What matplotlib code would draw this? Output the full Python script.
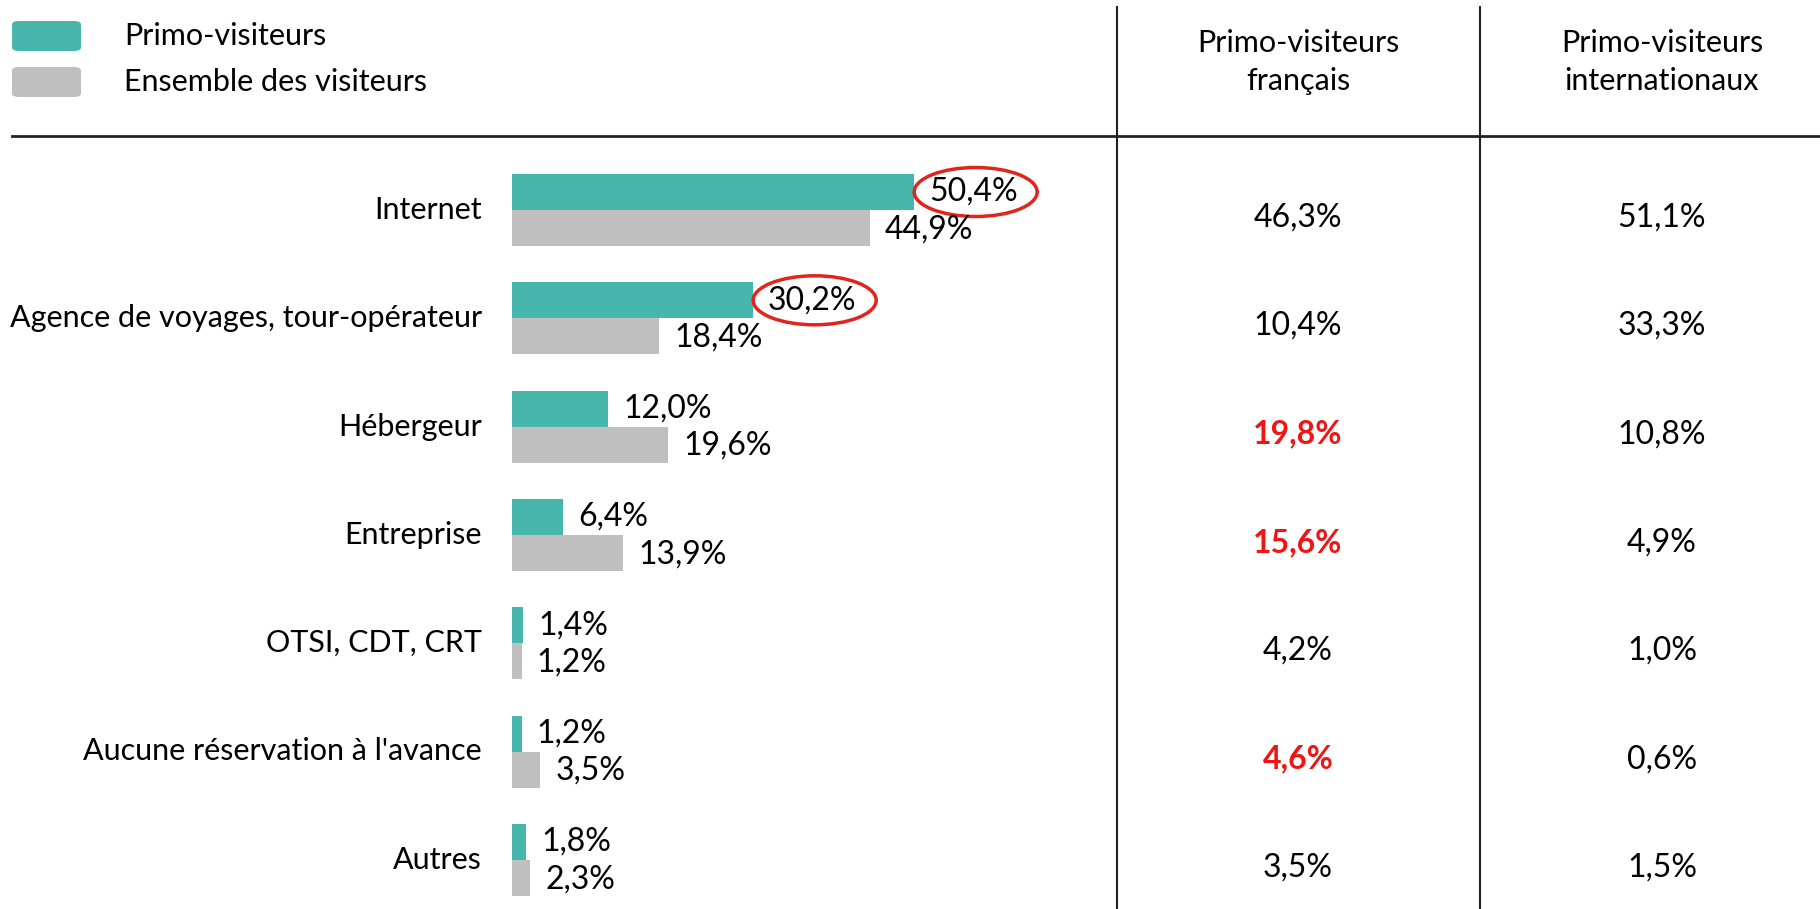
"""
Primo-visiteurs : mode de réservation (barres + tableau)
"""

import matplotlib
matplotlib.use('Agg')
import matplotlib.pyplot as plt
from matplotlib.patches import Ellipse, FancyBboxPatch
from matplotlib.lines import Line2D
from matplotlib.transforms import blended_transform_factory

plt.rcParams['font.family'] = ['Lato', 'DejaVu Sans']

# data
categories = ['Internet', 'Agence de voyages, tour-opérateur', 'Hébergeur',
              'Entreprise', 'OTSI, CDT, CRT', "Aucune réservation à l'avance", 'Autres']
primo = [50.4, 30.2, 12.0, 6.4, 1.4, 1.2, 1.8]
ensemble = [44.9, 18.4, 19.6, 13.9, 1.2, 3.5, 2.3]
primo_fr = [46.3, 10.4, 19.8, 15.6, 4.2, 4.6, 3.5]
primo_int = [51.1, 33.3, 10.8, 4.9, 1.0, 0.6, 1.5]
highlight_fr = [False, False, True, True, False, True, False]
circled = [0, 1]  # rows where the primo value is circled

TEAL = '#47B7AD'
GREY = '#BFBFBF'
RED_RING = '#E0261C'
RED_TXT = '#F01414'

W, H = 1820, 909
fig = plt.figure(figsize=(W / 100, H / 100), dpi=100)


def fx(px):
    return px / W


def fy(py):
    return 1 - py / H


def pct(v):
    return f'{v:.1f}%'.replace('.', ',')


# bar axes: x=0 at px 512, 7.97 px per %, row 0 centred at px 210, 108.3 px per row
x0, x1 = 512, 1100
top, bottom = 136, 909
ax = fig.add_axes([fx(x0), fy(bottom), fx(x1 - x0), (bottom - top) / H])
ax.set_xlim(0, (x1 - x0) / 7.97)
pitch, c0 = 108.3, 210
ax.set_ylim((bottom - c0) / pitch, (top - c0) / pitch)
ax.axis('off')

bh = 36 / pitch
ys = list(range(len(categories)))
ax.barh([y - bh / 2 for y in ys], primo, height=bh, color=TEAL)
ax.barh([y + bh / 2 for y in ys], ensemble, height=bh, color=GREY)

fs = 22      # labels
fn = 23      # numbers
for i, y in enumerate(ys):
    ax.annotate(pct(primo[i]), (primo[i], y - bh / 2), xytext=(11, 0),
                textcoords='offset points', va='center', ha='left', fontsize=fn)
    ax.annotate(pct(ensemble[i]), (ensemble[i], y + bh / 2), xytext=(11, -1),
                textcoords='offset points', va='center', ha='left', fontsize=fn)
    ax.text(-30 / 7.97, y, categories[i], ha='right', va='center', fontsize=fs)

# red rings around highlighted values
for i in circled:
    cx = primo[i] + 62 / 7.97
    ax.add_patch(Ellipse((cx, ys[i] - bh / 2), 123 / 7.97, 49 / pitch, fill=False,
                         edgecolor=RED_RING, linewidth=2.5, clip_on=False))

# table columns (x in figure px, y on the bar rows)
tr = blended_transform_factory(fig.transFigure, ax.transData)
for i, y in enumerate(ys):
    yy = y + 0.07
    if highlight_fr[i]:
        fig.text(fx(1298), yy, pct(primo_fr[i]), transform=tr, ha='center', va='center',
                 fontsize=fn, color=RED_TXT, fontweight='bold')
    else:
        fig.text(fx(1298), yy, pct(primo_fr[i]), transform=tr, ha='center', va='center',
                 fontsize=fn)
    fig.text(fx(1662), yy, pct(primo_int[i]), transform=tr, ha='center', va='center',
             fontsize=fn)

fig.text(fx(1298), fy(62), 'Primo-visiteurs\nfrançais', ha='center', va='center',
         fontsize=fs, linespacing=1.4)
fig.text(fx(1662), fy(62), 'Primo-visiteurs\ninternationaux', ha='center', va='center',
         fontsize=fs, linespacing=1.4)

# rules
fig.add_artist(Line2D([fx(12), 1], [fy(136), fy(136)], color='#222222', linewidth=2))
for xv in (1117, 1480):
    fig.add_artist(Line2D([fx(xv), fx(xv)], [fy(7), 0], color='#222222', linewidth=1.5))

# legend
for (yt, col, lab) in [(21, TEAL, 'Primo-visiteurs'), (67, GREY, 'Ensemble des visiteurs')]:
    fig.add_artist(FancyBboxPatch((fx(12), fy(yt + 30)), fx(69), 30 / H,
                                  boxstyle='round,pad=0,rounding_size=0.004',
                                  transform=fig.transFigure, facecolor=col, edgecolor='none'))
    fig.text(fx(124), fy(yt + 15), lab, ha='left', va='center', fontsize=fs)

plt.savefig('out.png', dpi=100)
